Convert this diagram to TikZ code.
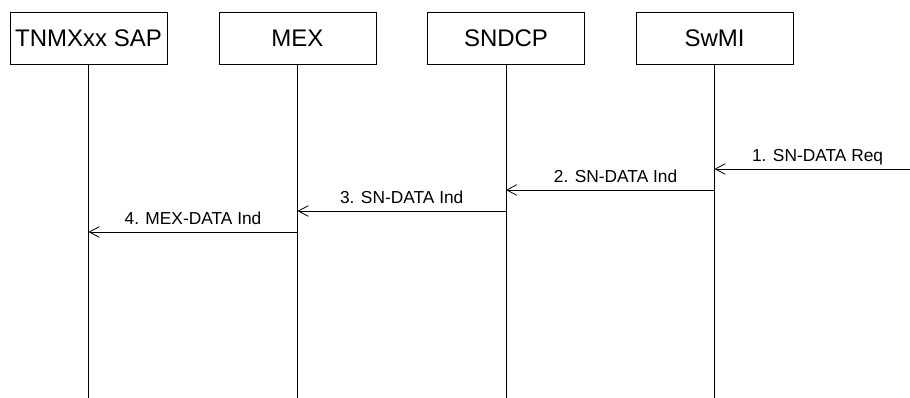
\documentclass[tikz,border=0pt]{standalone}
\usepackage{fontspec}
\setmainfont{Liberation Sans}
\usetikzlibrary{arrows.meta}
\begin{document}
\begin{tikzpicture}[x=0.75pt, y=-0.75pt,
    entity/.style={draw, line width=0.6pt, minimum width=117.75pt, minimum height=39pt,
      inner sep=0pt, font=\fontsize{18}{20}\selectfont},
    life/.style={line width=0.6pt},
    msg/.style={line width=0.6pt, -{Straight Barb[length=7.5pt, width=8pt, line width=0.6pt]}},
    lbl/.style={midway, anchor=base, yshift=5.5pt, font=\fontsize{13}{15}\selectfont}]
    \useasboundingbox (0,0) rectangle (910,398);
    \node[entity] (sap) at (88.5,38) {TNMXxx SAP};
    \node[entity] (mex) at (297.5,38) {MEX};
    \node[entity] (sndcp) at (506,38) {SNDCP};
    \node[entity] (swmi) at (714.5,38) {SwMI};
    \foreach \n in {sap,mex,sndcp,swmi}
      \draw[life] (\n.south) -- (\n.south |- 0,398);
    \coordinate (in) at (910,169);
    \draw[msg] (in) -- (swmi |- in) node[lbl, xshift=4pt] {1. SN-DATA Req};
    \draw[msg] (swmi |- 0,190) -- (sndcp |- 0,190) node[lbl, xshift=4pt] {2. SN-DATA Ind};
    \draw[msg] (sndcp |- 0,211) -- (mex |- 0,211) node[lbl] {3. SN-DATA Ind};
    \draw[msg] (mex |- 0,232) -- (sap |- 0,232) node[lbl] {4. MEX-DATA Ind};
\end{tikzpicture}
\end{document}
